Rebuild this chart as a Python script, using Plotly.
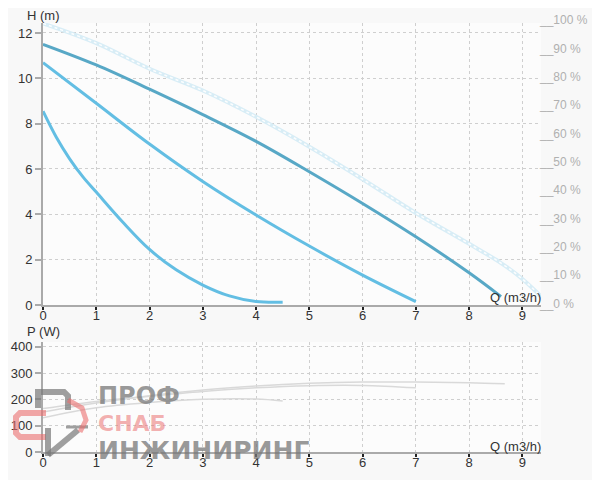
import plotly.graph_objects as go

# ---------------- data ----------------
q_max = [0, 1, 2, 3, 4, 5, 6, 7, 8, 8.6, 9.0, 9.42]
h_max = [12.42, 11.55, 10.42, 9.46, 8.3, 6.98, 5.55, 4.06, 2.7, 1.85, 1.15, 0.22]

q_s3 = [0, 1, 2, 3, 4, 5, 6, 7, 8, 8.6]
h_s3 = [11.5, 10.59, 9.52, 8.4, 7.22, 5.88, 4.48, 3.01, 1.42, 0.37]

q_s2 = [0, 1, 2, 3, 4, 5, 6, 7]
h_s2 = [10.69, 8.9, 7.1, 5.45, 3.97, 2.6, 1.32, 0.15]

q_s1 = [0, 0.25, 0.5, 0.75, 1, 1.5, 2, 2.5, 3, 3.5, 4, 4.5]
h_s1 = [8.55, 7.4, 6.45, 5.65, 4.98, 3.65, 2.45, 1.55, 0.88, 0.4, 0.15, 0.12]

q_p3 = [0, 1, 2, 3, 4, 5, 6, 7, 8, 8.67]
p_p3 = [152, 186, 214, 236, 251, 261, 266, 266, 263, 259]

q_p2 = [0, 1, 2, 3, 4, 5, 6, 7]
p_p2 = [165, 192, 212, 230, 244, 252, 253, 244]

q_p1 = [0, 1, 2, 3, 4, 4.5]
p_p1 = [130, 168, 188, 200, 201, 194]

x_ticks = [0, 1, 2, 3, 4, 5, 6, 7, 8, 9]
h_ticks = [0, 2, 4, 6, 8, 10, 12]
p_ticks = [0, 100, 200, 300, 400]
eff_ticks = [0, 10, 20, 30, 40, 50, 60, 70, 80, 90, 100]

# ---------------- geometry helpers ----------------
# the page body has an 8px margin, so the figure is laid out in page pixels minus 8
OX, OY = 8, 8
W, H = 592, 472
L = 43 - OX
R = W - (541 - OX)
T = 23 - OY
B = H - (452 - OY)
PW, PH = W - L - R, H - T - B


def px(x):
    return (x - OX - L) / PW


def py(y):
    return (H - B - (y - OY)) / PH


top_dom = [py(305), 1.0]
bot_dom = [0.0, py(342)]

# efficiency scale (right side): 0 % at y=302.7 px, 100 % at y=19.4 px
EFF0, EFF100 = 302.7, 19.4


def eff_y(e):
    return py(EFF0 + (EFF100 - EFF0) * e / 100.0)


fig = go.Figure()

c_dark = "#58a8c6"
c_light = "#63bee3"
c_max = "#d8edf6"
c_pow = "#d9d9d9"

# max curve (beaded look)
fig.add_trace(go.Scatter(x=q_max, y=h_max, mode="lines", line=dict(color=c_max, width=4, shape="spline"),
                         xaxis="x", yaxis="y", hoverinfo="skip"))
fig.add_trace(go.Scatter(x=q_max, y=h_max, mode="lines", line=dict(color="#fbfdfe", width=1.5, dash="dot", shape="spline"),
                         xaxis="x", yaxis="y", hoverinfo="skip"))
fig.add_trace(go.Scatter(x=q_s3, y=h_s3, mode="lines", line=dict(color=c_dark, width=3, shape="spline"),
                         xaxis="x", yaxis="y"))
fig.add_trace(go.Scatter(x=q_s2, y=h_s2, mode="lines", line=dict(color=c_light, width=3, shape="spline"),
                         xaxis="x", yaxis="y"))
fig.add_trace(go.Scatter(x=q_s1, y=h_s1, mode="lines", line=dict(color=c_light, width=3, shape="spline"),
                         xaxis="x", yaxis="y"))

for qq, pp in [(q_p3, p_p3), (q_p2, p_p2), (q_p1, p_p1)]:
    fig.add_trace(go.Scatter(x=qq, y=pp, mode="lines", line=dict(color=c_pow, width=1.5, shape="spline"),
                             xaxis="x2", yaxis="y3"))

axis_common = dict(showgrid=True, gridcolor="#cfcfcf", griddash="dot", gridwidth=1, zeroline=False,
                   automargin=False,
                   tickfont=dict(family="Liberation Sans, Arial", size=13, color="#333"))

xaxis_style = dict(tickvals=x_ticks, ticks="outside", ticklen=3, tickcolor="#222", tickwidth=2,
                   ticklabelstandoff=-6, showline=True, linecolor="#aaaaaa", linewidth=2, **axis_common)
yaxis_style = dict(ticks="outside", ticklen=6, tickcolor="#aaaaaa", tickwidth=2,
                   showline=True, linecolor="#aaaaaa", linewidth=2, **axis_common)

x_range = [0, 9.35]
fig.update_layout(
    width=W, height=H,
    margin=dict(l=L, r=R, t=T, b=B),
    paper_bgcolor="#f8f8f8", plot_bgcolor="#fcfcfc",
    showlegend=False,
    xaxis=dict(domain=[0, 1], range=x_range, anchor="y", **xaxis_style),
    yaxis=dict(domain=top_dom, range=[0, 12.44], anchor="x", tickvals=h_ticks, **yaxis_style),
    xaxis2=dict(domain=[0, 1], range=x_range, anchor="y3", **xaxis_style),
    yaxis3=dict(domain=bot_dom, range=[0, 418], anchor="x2", tickvals=p_ticks, **yaxis_style),
)

ann = []
# axis titles
title_font = dict(family="Liberation Sans, Arial", size=13, color="#333")
ann.append(dict(text="H (m)", x=px(25), y=py(16), xref="paper", yref="paper", xanchor="left", yanchor="middle",
                showarrow=False, font=title_font))
ann.append(dict(text="P (W)", x=px(25), y=py(332), xref="paper", yref="paper", xanchor="left", yanchor="middle",
                showarrow=False, font=title_font))
ann.append(dict(text="Q (m3/h)", x=px(543), y=py(297), xref="paper", yref="paper", xanchor="right", yanchor="middle",
                showarrow=False, font=title_font))
ann.append(dict(text="Q (m3/h)", x=px(543), y=py(446), xref="paper", yref="paper", xanchor="right", yanchor="middle",
                showarrow=False, font=title_font))
# right efficiency labels
for e in eff_ticks:
    ann.append(dict(text="__%d %%" % e, x=px(537), y=eff_y(e), xref="paper", yref="paper", xanchor="left",
                    yanchor="middle", yshift=-1, showarrow=False,
                    font=dict(family="Liberation Sans, Arial", size=12, color="#b0b0b0")))

# watermark text
wm_font = "DejaVu Sans, Liberation Sans"
ann.append(dict(text="<b>ПРОФ</b>", x=px(97), y=py(396), xref="paper", yref="paper", xanchor="left", yanchor="middle",
                showarrow=False, borderpad=0,
                font=dict(family=wm_font, size=24, color="rgba(120,120,120,0.75)")))
ann.append(dict(text="<b>СНАБ</b>", x=px(97), y=py(423), xref="paper", yref="paper", xanchor="left", yanchor="middle",
                showarrow=False, borderpad=0,
                font=dict(family=wm_font, size=22, color="rgba(235,110,110,0.55)")))
ann.append(dict(text="<b>ИНЖИНИРИНГ</b>", x=px(97), y=py(450), xref="paper", yref="paper", xanchor="left",
                yanchor="middle", showarrow=False, borderpad=0,
                font=dict(family=wm_font, size=25, color="rgba(120,120,120,0.75)")))
fig.update_layout(annotations=ann)


def path(points):
    s = "M %f,%f" % (px(points[0][0]), py(points[0][1]))
    for a, b in points[1:]:
        s += " L %f,%f" % (px(a), py(b))
    return s


shapes = []
gray = "rgba(120,120,120,0.7)"
red = "rgba(235,110,110,0.6)"
shapes.append(dict(type="path", xref="paper", yref="paper",
                   path=path([(38, 408), (38, 392), (64, 392), (68, 396), (68, 410)]),
                   line=dict(color=gray, width=6)))
shapes.append(dict(type="path", xref="paper", yref="paper",
                   path=path([(46, 413), (20, 413), (16, 417), (16, 433), (20, 437), (46, 437)]),
                   line=dict(color=red, width=6)))
shapes.append(dict(type="path", xref="paper", yref="paper",
                   path=path([(48, 428), (48, 456)]),
                   line=dict(color=gray, width=6)))
shapes.append(dict(type="path", xref="paper", yref="paper",
                   path=path([(48, 455), (78, 430)]),
                   line=dict(color=gray, width=6)))
shapes.append(dict(type="path", xref="paper", yref="paper",
                   path=path([(66, 427), (88, 427)]),
                   line=dict(color=gray, width=3)))
shapes.append(dict(type="path", xref="paper", yref="paper",
                   path=path([(68, 400), (82, 408), (86, 420), (80, 432)]),
                   line=dict(color=red, width=5)))
fig.update_layout(shapes=shapes)

fig.write_html("out.html")
